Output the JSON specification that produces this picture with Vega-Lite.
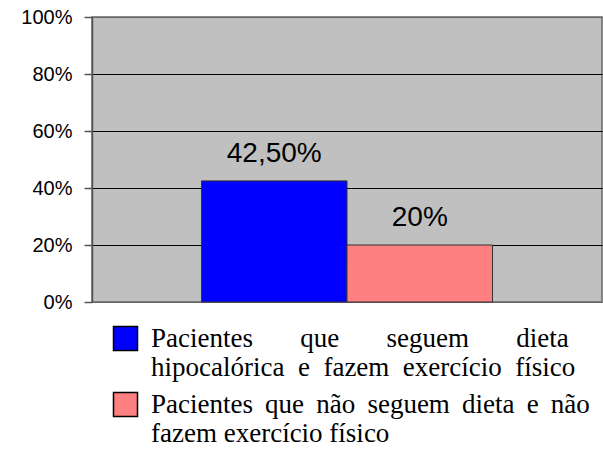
{
  "$schema": "https://vega.github.io/schema/vega-lite/v6.json",
  "width": 510,
  "height": 285,
  "autosize": {"type": "none"},
  "padding": {"left": 92, "top": 17, "right": 1, "bottom": 147},
  "background": "white",
  "config": {
    "view": {"fill": "#C0C0C0", "stroke": "#666666", "strokeWidth": 1.5},
    "style": {"guide-label": {"lineBreak": "|", "lineHeight": 29}}
  },
  "data": {
    "values": [
      {"serie": "Pacientes\u00a0\u00a0\u00a0\u00a0\u00a0\u00a0\u00a0que\u00a0\u00a0\u00a0\u00a0\u00a0\u00a0\u00a0seguem\u00a0\u00a0\u00a0\u00a0\u00a0\u00a0\u00a0dieta|hipocalórica \u00a0e \u00a0fazem \u00a0exercício \u00a0físico", "valor": 0.425, "rotulo": "42,50%"},
      {"serie": "Pacientes \u2009que \u2009não \u2009seguem \u2009dieta \u2009e \u2009não|fazem exercício físico", "valor": 0.20, "rotulo": "20%"}
    ]
  },
  "encoding": {
    "x": {
      "field": "serie",
      "type": "nominal",
      "axis": null,
      "sort": null,
      "scale": {"paddingInner": 0, "paddingOuter": 0.7526}
    },
    "y": {
      "field": "valor",
      "type": "quantitative",
      "scale": {"domain": [0, 1]},
      "axis": {
        "title": null,
        "values": [0, 0.2, 0.4, 0.6, 0.8, 1],
        "format": ".0%",
        "labelFont": "Liberation Sans",
        "labelFontSize": 20,
        "labelColor": "black",
        "labelPadding": 12,
        "tickSize": 8,
        "tickColor": "#555555",
        "tickWidth": 1.5,
        "domainColor": "#555555",
        "domainWidth": 1.5,
        "gridColor": {"condition": {"test": "datum.value == 0 || datum.value == 1", "value": "#666666"}, "value": "black"},
        "gridWidth": 1,
        "gridOpacity": 1
      }
    }
  },
  "layer": [
    {
      "mark": {"type": "bar", "stroke": "#333333", "strokeWidth": 1},
      "encoding": {
        "color": {
          "field": "serie",
          "type": "nominal",
          "sort": null,
          "scale": {"range": ["#0000FF", "#FF8080"]},
          "legend": {
            "orient": "none",
            "legendX": 20,
            "legendY": 308,
            "title": null,
            "padding": 0,
            "symbolType": "square",
            "symbolSize": 576,
            "symbolStrokeColor": "black",
            "symbolStrokeWidth": 1.5,
            "symbolOpacity": 1,
            "labelFont": "Liberation Serif",
            "labelFontSize": 27,
            "labelColor": "black",
            "labelOffset": 12,
            "labelLimit": 600,
            "rowPadding": 8
          }
        }
      }
    },
    {
      "mark": {"type": "text", "baseline": "bottom", "dy": -13, "font": "Liberation Sans", "fontSize": 28, "color": "black"},
      "encoding": {"text": {"field": "rotulo"}}
    }
  ]
}
